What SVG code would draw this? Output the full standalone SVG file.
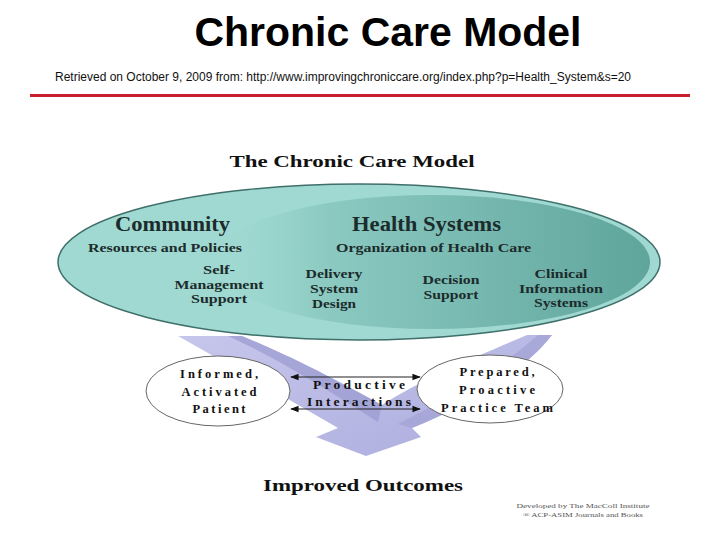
<svg xmlns="http://www.w3.org/2000/svg" width="720" height="540" viewBox="0 0 720 540">
<defs>
<style>
.h1{font-family:"Liberation Sans",Arial,sans-serif;font-weight:bold;fill:#000}
.src{font-family:"Liberation Sans",Arial,sans-serif;fill:#111}
.s{font-family:"Liberation Serif","Times New Roman",serif;font-weight:bold;fill:#1c2b2b}
.e{font-family:"Liberation Serif","Times New Roman",serif;font-weight:bold;fill:#111}
.cr{font-family:"Liberation Serif","Times New Roman",serif;fill:#555}
.m{text-anchor:middle}
.conn{stroke:#222;stroke-width:1.2;fill:none}
</style>
<linearGradient id="inner" x1="0" y1="0" x2="1" y2="0">
<stop offset="0" stop-color="#9fd9d1" stop-opacity="0"/>
<stop offset="0.25" stop-color="#8ccac2"/>
<stop offset="1" stop-color="#5fa59c"/>
</linearGradient>
<linearGradient id="arrowg" x1="0" y1="0" x2="1" y2="1">
<stop offset="0" stop-color="#c6c6ec"/>
<stop offset="1" stop-color="#acacde"/>
</linearGradient>
<marker id="ah" viewBox="0 0 10 10" refX="9" refY="5" markerWidth="7" markerHeight="7" orient="auto-start-reverse">
<path d="M0,1 L10,5 L0,9 Z" fill="#111"/>
</marker>
</defs>
<rect width="720" height="540" fill="#fff"/>

<g id="header">
<text class="h1" x="388" y="46" font-size="40" text-anchor="middle" textLength="387" lengthAdjust="spacingAndGlyphs">Chronic Care Model</text>
<text class="src" x="55" y="81" font-size="12" textLength="576" lengthAdjust="spacingAndGlyphs">Retrieved on October 9, 2009 from: http://www.improvingchroniccare.org/index.php?p=Health_System&amp;s=20</text>
<rect x="30" y="94" width="660" height="3" fill="#c8202a"/>
</g>

<text class="e" x="352" y="167" font-size="17" text-anchor="middle" textLength="245" lengthAdjust="spacingAndGlyphs" fill="#333">The Chronic Care Model</text>

<g id="arrow">
<path d="M178,336 L242,336 C300,360 345,385 382,405 C420,380 480,355 527,335 L552,335 C525,370 470,405 412,428 L421,437 L366,456 L316,437 L338,428 C290,400 230,365 178,336 Z" fill="url(#arrowg)"/>
<path d="M228,336 L242,336 C300,360 345,385 382,405 L378,422 C335,395 285,362 228,336 Z" fill="#9a9ad0" opacity="0.7"/>
<path d="M538,335 L552,335 C525,370 470,405 412,428 L398,424 C450,398 505,365 538,335 Z" fill="#9a9ad0" opacity="0.55"/>
</g>

<g id="community">
<ellipse cx="359" cy="262" rx="301" ry="78" fill="#9fd9d1" stroke="#3f6f6a" stroke-width="1.5"/>
</g>
<g id="health-systems">
<ellipse cx="432" cy="262" rx="218" ry="67" fill="url(#inner)"/>
</g>

<g id="ellipse-text">
<text class="s" x="115" y="231" font-size="20" textLength="115" lengthAdjust="spacingAndGlyphs">Community</text>
<text class="s" x="352" y="231" font-size="20" textLength="149" lengthAdjust="spacingAndGlyphs">Health Systems</text>
<text class="s" x="88" y="252" font-size="12.5" textLength="154" lengthAdjust="spacingAndGlyphs">Resources and Policies</text>
<text class="s" x="336" y="252" font-size="12.5" textLength="195" lengthAdjust="spacingAndGlyphs">Organization of Health Care</text>
</g>

<g id="self-management">
<text class="s m" x="219" y="274" font-size="12.5" textLength="32" lengthAdjust="spacingAndGlyphs">Self-</text>
<text class="s m" x="219" y="289" font-size="12.5" textLength="89" lengthAdjust="spacingAndGlyphs">Management</text>
<text class="s m" x="219" y="303" font-size="12.5" textLength="56" lengthAdjust="spacingAndGlyphs">Support</text>
</g>
<g id="delivery">
<text class="s m" x="334" y="278" font-size="12.5" textLength="57" lengthAdjust="spacingAndGlyphs">Delivery</text>
<text class="s m" x="334" y="293" font-size="12.5" textLength="48" lengthAdjust="spacingAndGlyphs">System</text>
<text class="s m" x="334" y="308" font-size="12.5" textLength="44" lengthAdjust="spacingAndGlyphs">Design</text>
</g>
<g id="decision">
<text class="s m" x="451" y="284" font-size="12.5" textLength="57" lengthAdjust="spacingAndGlyphs">Decision</text>
<text class="s m" x="451" y="299" font-size="12.5" textLength="55" lengthAdjust="spacingAndGlyphs">Support</text>
</g>
<g id="clinical">
<text class="s m" x="561" y="278" font-size="12.5" textLength="53" lengthAdjust="spacingAndGlyphs">Clinical</text>
<text class="s m" x="561" y="293" font-size="12.5" textLength="84" lengthAdjust="spacingAndGlyphs">Information</text>
<text class="s m" x="561" y="307" font-size="12.5" textLength="54" lengthAdjust="spacingAndGlyphs">Systems</text>
</g>

<g id="patient">
<ellipse cx="218" cy="391" rx="72" ry="35" fill="#fff" stroke="#666" stroke-width="1"/>
<text class="e m" x="219" y="378" font-size="12.5" textLength="78" lengthAdjust="spacing">Informed,</text>
<text class="e m" x="219" y="396" font-size="12.5" textLength="75" lengthAdjust="spacing">Activated</text>
<text class="e m" x="219" y="413" font-size="12.5" textLength="53" lengthAdjust="spacing">Patient</text>
</g>

<g id="team">
<ellipse cx="490" cy="389" rx="73" ry="34" fill="#fff" stroke="#666" stroke-width="1"/>
<text class="e m" x="497" y="376" font-size="12.5" textLength="75" lengthAdjust="spacing">Prepared,</text>
<text class="e m" x="497" y="394" font-size="12.5" textLength="76" lengthAdjust="spacing">Proactive</text>
<text class="e m" x="497" y="412" font-size="12.5" textLength="112" lengthAdjust="spacing">Practice Team</text>
</g>

<g id="connectors">
<line class="conn" x1="291" y1="377" x2="420" y2="377" marker-start="url(#ah)" marker-end="url(#ah)"/>
<line class="conn" x1="291" y1="409" x2="420" y2="409" marker-start="url(#ah)" marker-end="url(#ah)"/>
</g>

<g id="interactions">
<text class="e m" x="359" y="389" font-size="13.5" textLength="92" lengthAdjust="spacing">Productive</text>
<text class="e m" x="359" y="406" font-size="13.5" textLength="104" lengthAdjust="spacing">Interactions</text>
</g>

<g id="outcomes">
<text class="e" x="263" y="491" font-size="17" textLength="200" lengthAdjust="spacingAndGlyphs" fill="#222">Improved Outcomes</text>
</g>

<g id="credit">
<text class="cr m" x="583" y="508" font-size="6.5" textLength="133" lengthAdjust="spacingAndGlyphs">Developed by The MacColl Institute</text>
<text class="cr m" x="583" y="517" font-size="6.5" textLength="120" lengthAdjust="spacingAndGlyphs">® ACP-ASIM Journals and Books</text>
</g>
</svg>
